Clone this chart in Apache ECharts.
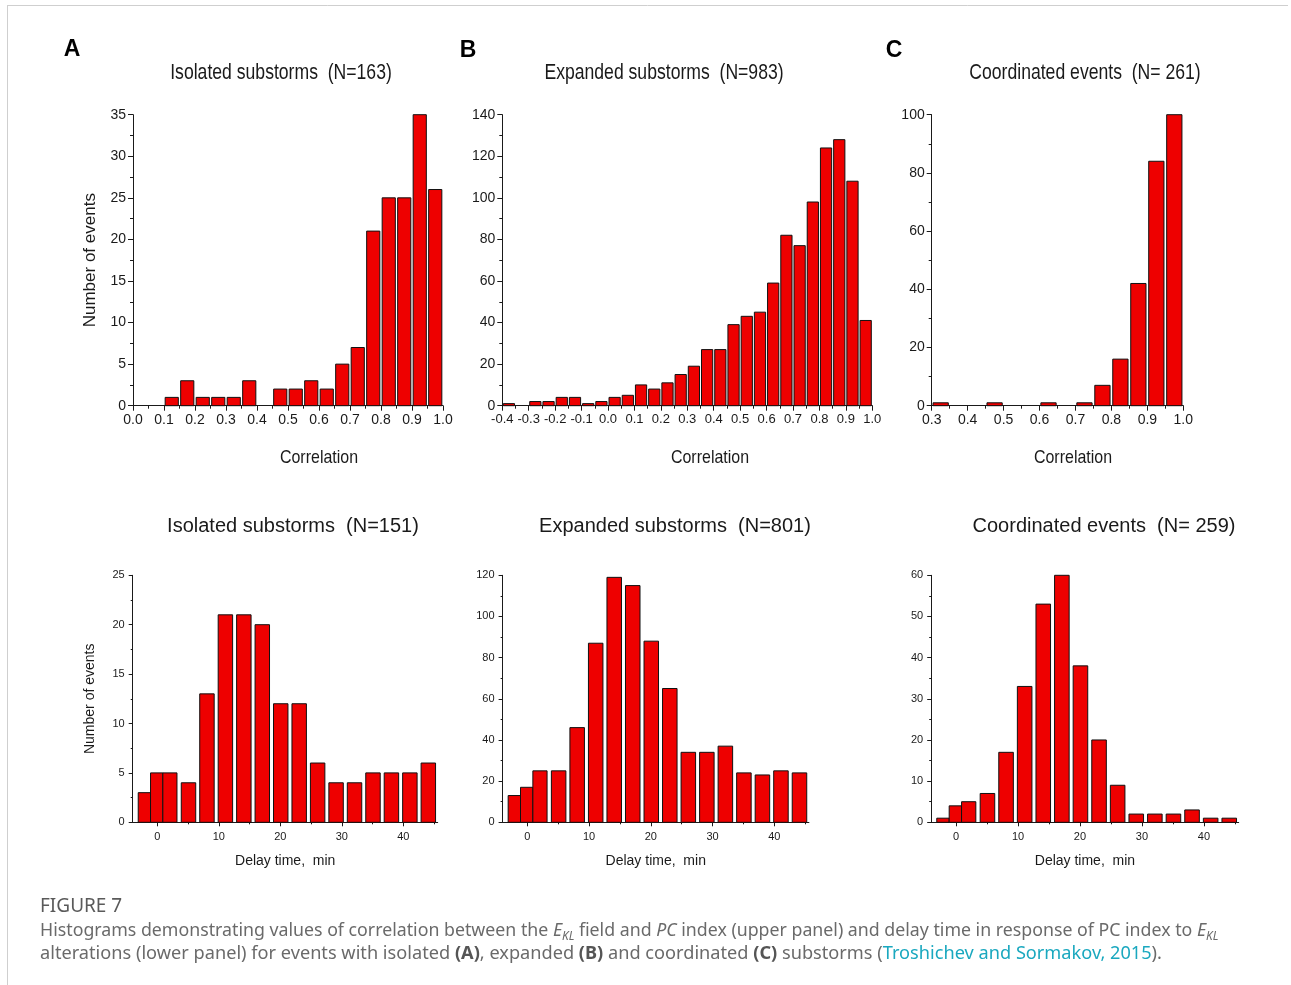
<!DOCTYPE html>
<html><head><meta charset="utf-8">
<script src="https://cdn.jsdelivr.net/npm/echarts@6/dist/echarts.min.js"></script>
<style>html,body{margin:0;padding:0;background:#fff}#c{width:1291px;height:985px}</style>
</head><body><div id="c"></div>
<script>
// ---------------- DATA ----------------
const corrBinWidth = 0.05;
const corrBinsA = [0.00,0.05,0.10,0.15,0.20,0.25,0.30,0.35,0.40,0.45,0.50,0.55,0.60,0.65,0.70,0.75,0.80,0.85,0.90,0.95];
const corrCountsA = [0,0,1,3,1,1,1,3,0,2,2,3,2,5,7,21,25,25,35,26];
const corrBinsB = [-0.40,-0.35,-0.30,-0.25,-0.20,-0.15,-0.10,-0.05,0.00,0.05,0.10,0.15,0.20,0.25,0.30,0.35,0.40,0.45,0.50,0.55,0.60,0.65,0.70,0.75,0.80,0.85,0.90,0.95];
const corrCountsB = [1,0,2,2,4,4,1,2,4,5,10,8,11,15,19,27,27,39,43,45,59,82,77,98,124,128,108,41];
const corrBinsC = [0.30,0.35,0.40,0.45,0.50,0.55,0.60,0.65,0.70,0.75,0.80,0.85,0.90,0.95];
const corrCountsC = [1,0,0,1,0,0,1,0,1,7,16,42,84,100];

const delayLo = [-3.1,-1.1,0.9,3.9,6.9,9.9,12.9,15.9,18.9,21.9,24.9,27.9,30.9,33.9,36.9,39.9,42.9];
const delayHi = [-1.1,0.9,3.2,6.25,9.25,12.25,15.25,18.25,21.25,24.25,27.25,30.25,33.25,36.25,39.25,42.25,45.25];
const delayCountsA = [3,5,5,4,13,21,21,20,12,12,6,4,4,5,5,5,6];
const delayCountsB = [13,17,25,25,46,87,119,115,88,65,34,34,37,24,23,25,24];
const delayCountsC = [1,4,5,7,17,33,53,60,38,20,9,2,2,2,3,1,1];

const delayTickLabels = [0,10,20,30,40];
const delayMinorTicks = [5,15,25,35,45];

const titlesTop = ['Isolated substorms  (N=163)','Expanded substorms  (N=983)','Coordinated events  (N= 261)'];
const titlesBottom = ['Isolated substorms  (N=151)','Expanded substorms  (N=801)','Coordinated events  (N= 259)'];
const panelLetters = ['A','B','C'];
const xNameTop = 'Correlation';
const xNameBottom = 'Delay time,  min';
const yName = 'Number of events';

// ---------------- STYLE ----------------
const REG = "'Liberation Sans',Arial,Helvetica,sans-serif";
const CAP = "'Noto Sans','Open Sans',sans-serif";
const BAR_FILL = '#ee0000';
const INK = '#1a1a1a';

function histRender(gapFrac){
  return function(params, api){
    const x0 = api.value(0), x1 = api.value(1), y = api.value(2);
    if (!y) return null;
    const g = (x1 - x0) * gapFrac;
    const p0 = api.coord([x0 + g, y]);
    const p1 = api.coord([x1 - g, 0]);
    return {type:'rect', shape:{x:p0[0], y:p0[1], width:p1[0]-p0[0], height:p1[1]-p0[1]},
      style:{fill:BAR_FILL, stroke:'#111', lineWidth:1}};
  };
}
const corrData = (bins, counts) => bins.map((b,i)=>[b, b + corrBinWidth, counts[i]]);
const delayData = counts => counts.map((c,i)=>[delayLo[i], delayHi[i], c]);

const topGrids = [
  {left:133, top:114.7, width:310, height:291},
  {left:502.3, top:114.7, width:370, height:291},
  {left:931.7, top:114.7, width:251.6, height:291}
];
const botGrids = [
  {left:132.7, top:575.3, width:305, height:247},
  {left:502.6, top:575.3, width:306.3, height:247},
  {left:931.2, top:575.3, width:307.5, height:247}
];

const axisLineStyle = {show:true, onZero:false, lineStyle:{color:INK, width:1}};

const xAxes = [], yAxes = [], series = [];
const topRanges = [[0,1],[-0.4,1],[0.3,1]];
const topYMax = [35,140,100], topYInt = [5,20,20];
const topXLabelSize = [14,13,14];
const topData = [corrData(corrBinsA,corrCountsA), corrData(corrBinsB,corrCountsB), corrData(corrBinsC,corrCountsC)];
for (let i=0;i<3;i++){
  xAxes.push({type:'value', gridIndex:i, position:'bottom', min:topRanges[i][0], max:topRanges[i][1], interval:0.1,
    axisLine:axisLineStyle, splitLine:{show:false},
    axisTick:{show:true, length:5, lineStyle:{color:INK}},
    minorTick:{show:true, splitNumber:2, length:3, lineStyle:{color:INK}},
    axisLabel:{fontFamily:REG, fontSize:topXLabelSize[i], color:INK, margin:7, formatter:v=>(Math.round(v*10)/10).toFixed(1)}});
  yAxes.push({type:'value', gridIndex:i, position:'left', min:0, max:topYMax[i], interval:topYInt[i],
    axisLine:axisLineStyle, splitLine:{show:false},
    axisTick:{show:true, length:5, lineStyle:{color:INK}},
    minorTick:{show:true, splitNumber:2, length:3, lineStyle:{color:INK}},
    axisLabel:{fontFamily:REG, fontSize:14, color:INK, margin:7},
    name: i===0 ? yName : '', nameLocation:'middle', nameGap:34, nameRotate:90,
    nameTextStyle:{fontFamily:REG, fontSize:17, color:INK}});
  series.push({type:'custom', xAxisIndex:i, yAxisIndex:i, renderItem:histRender(0.075), data:topData[i], clip:false});
}
const botYMax = [25,120,60], botYInt = [5,20,10];
const botData = [delayData(delayCountsA), delayData(delayCountsB), delayData(delayCountsC)];
for (let i=0;i<3;i++){
  const g = 3+i;
  xAxes.push({type:'value', gridIndex:g, position:'bottom', min:-4, max:45.6,
    axisLine:axisLineStyle, splitLine:{show:false},
    axisTick:{show:true, length:4, customValues:delayTickLabels, lineStyle:{color:INK}},
    axisLabel:{fontFamily:REG, fontSize:11, color:INK, margin:9, customValues:delayTickLabels},
    name:xNameBottom, nameLocation:'middle', nameGap:32,
    nameTextStyle:{fontFamily:REG, fontSize:14, color:INK}});
  yAxes.push({type:'value', gridIndex:g, position:'left', min:0, max:botYMax[i], interval:botYInt[i],
    axisLine:axisLineStyle, splitLine:{show:false},
    axisTick:{show:true, length:4, lineStyle:{color:INK}},
    minorTick:{show:true, splitNumber:2, length:2, lineStyle:{color:INK}},
    axisLabel:{fontFamily:REG, fontSize:11, color:INK, margin:8},
    name: i===0 ? yName : '', nameLocation:'middle', nameGap:36, nameRotate:90,
    nameTextStyle:{fontFamily:REG, fontSize:14, color:INK}});
  series.push({type:'custom', xAxisIndex:3+i, yAxisIndex:3+i, renderItem:histRender(0), data:botData[i], clip:false});
}
// minor tick overlays for the delay axes
for (let i=0;i<3;i++){
  xAxes.push({type:'value', gridIndex:3+i, position:'bottom', offset:0, min:-4, max:45.6,
    axisLine:{show:false, onZero:false},
    splitLine:{show:false}, axisLabel:{show:false},
    axisTick:{show:true, length:2, customValues:delayMinorTicks, lineStyle:{color:INK}}});
}

const graphics = [
  {type:'line', shape:{x1:7, y1:5.5, x2:1288, y2:5.5}, style:{stroke:'#cfcfcf', lineWidth:1}},
  {type:'line', shape:{x1:7.5, y1:5, x2:7.5, y2:985}, style:{stroke:'#cfcfcf', lineWidth:1}}
];
const letterPos = [[72,50],[468,51],[894,51]];
panelLetters.forEach((t,i)=>graphics.push({type:'text', x:letterPos[i][0], y:letterPos[i][1],
  style:{text:t, font:"bold 23px "+REG, fill:'#000', align:'center', verticalAlign:'middle'}}));
const topTitleX = [281,664,1085];
titlesTop.forEach((t,i)=>graphics.push({type:'text', x:topTitleX[i], y:73, scaleX:0.8,
  style:{text:t, font:"22px "+REG, fill:INK, align:'center', verticalAlign:'middle'}}));
const topXNameX = [319,710,1073];
topXNameX.forEach(x=>graphics.push({type:'text', x:x, y:458, scaleX:0.84,
  style:{text:xNameTop, font:"19px "+REG, fill:INK, align:'center', verticalAlign:'middle'}}));
const botTitleX = [293,675,1104];
titlesBottom.forEach((t,i)=>graphics.push({type:'text', x:botTitleX[i], y:526,
  style:{text:t, font:"20px "+REG, fill:INK, align:'center', verticalAlign:'middle'}}));

graphics.push({type:'text', x:40, y:907, style:{text:'FIGURE 7', font:"19px "+CAP, fill:'#5a5a5a', align:'left', verticalAlign:'middle'}});
const capRich = {
  t:{fontSize:18, fontFamily:CAP, fill:'#6a6a6a', lineHeight:24},
  i:{fontStyle:'italic', fontSize:18, fontFamily:CAP, fill:'#6a6a6a', lineHeight:24},
  sub:{fontStyle:'italic', fontSize:12, fontFamily:CAP, fill:'#6a6a6a', verticalAlign:'bottom', lineHeight:24},
  b:{fontWeight:'bold', fontSize:18, fontFamily:CAP, fill:'#555', lineHeight:24},
  link:{fontSize:18, fontFamily:CAP, fill:'#1aa8bf', lineHeight:24}
};
graphics.push({type:'text', x:40, y:931, scaleX:0.986, style:{
  text:'Histograms demonstrating values of correlation between the {i|E}{sub|KL} field and {i|PC} index (upper panel) and delay time in response of PC index to {i|E}{sub|KL}',
  font:"18px "+CAP, fill:'#6a6a6a', align:'left', verticalAlign:'middle', lineHeight:24, rich:capRich}});
graphics.push({type:'text', x:40, y:954, scaleX:1.01, style:{
  text:'alterations (lower panel) for events with isolated {b|(A)}, expanded {b|(B)} and coordinated {b|(C)} substorms ({link|Troshichev and Sormakov, 2015}{t|).}',
  font:"18px "+CAP, fill:'#6a6a6a', align:'left', verticalAlign:'middle', lineHeight:24, rich:capRich}});

const chart = echarts.init(document.getElementById('c'), null, {renderer:'canvas'});
chart.setOption({
  animation:false,
  backgroundColor:'#fff',
  grid: topGrids.concat(botGrids),
  xAxis: xAxes,
  yAxis: yAxes,
  series: series,
  graphic: graphics
});
</script></body></html>
